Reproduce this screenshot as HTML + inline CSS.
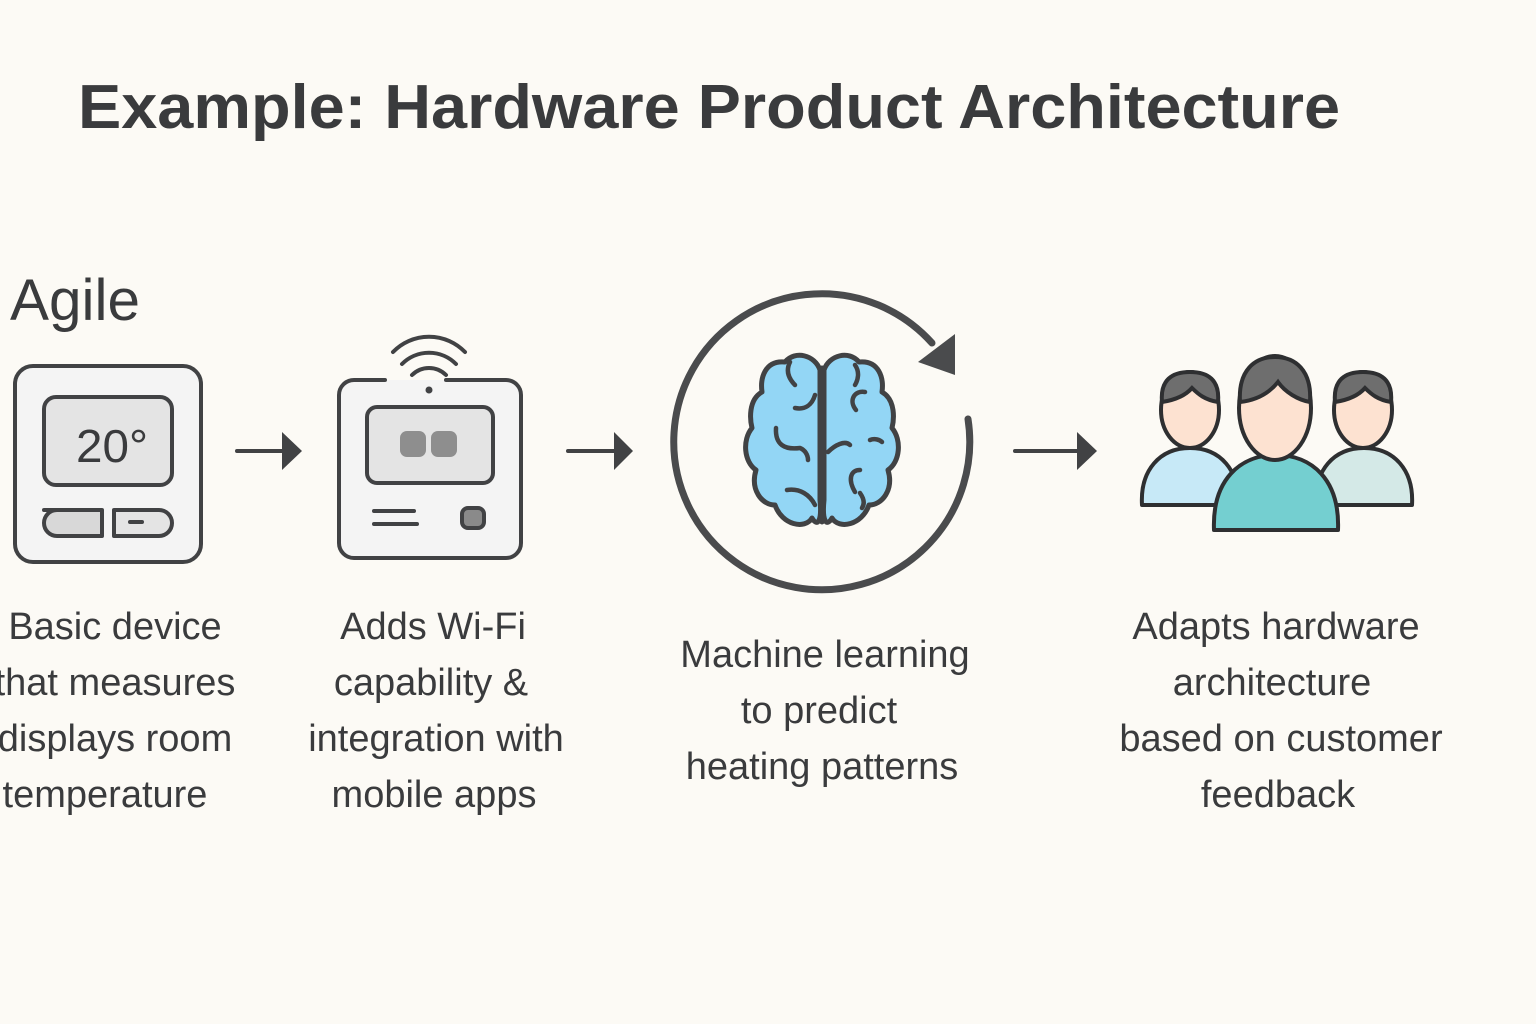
<!DOCTYPE html>
<html><head><meta charset="utf-8"><style>
html,body{margin:0;padding:0;background:#fcfaf5;}
svg{display:block}
text{font-family:"Liberation Sans",sans-serif;fill:#3a3b3d}
</style></head><body>
<svg width="1536" height="1024" viewBox="0 0 1536 1024">
<rect width="1536" height="1024" fill="#fcfaf5"/>
<text x="78" y="128" font-size="62" font-weight="bold" fill="#3a3b3d" textLength="1262" lengthAdjust="spacingAndGlyphs">Example: Hardware Product Architecture</text>
<text x="10" y="320" font-size="58" textLength="130" lengthAdjust="spacingAndGlyphs">Agile</text>

<g stroke="#414244" stroke-width="4" stroke-linecap="round" stroke-linejoin="round">
<rect x="15" y="366" width="186" height="196" rx="18" fill="#f4f4f4"/>
<rect x="44" y="397" width="128" height="88" rx="12" fill="#e4e4e4"/>
<path d="M44 510 h58 v26 h-45 a13 13 0 0 1 0 -26z" fill="#d8d8d8"/>
<path d="M114 510 h45 a13 13 0 0 1 0 26 h-45z" fill="#e4e4e4"/>
<line x1="130" y1="522" x2="142" y2="522"/>
<line x1="237" y1="451" x2="285" y2="451"/>
<line x1="568" y1="451" x2="617" y2="451"/>
<line x1="1015" y1="451" x2="1080" y2="451"/>
</g>
<text x="76" y="462" font-size="46" textLength="72" lengthAdjust="spacingAndGlyphs">20°</text>
<g fill="#414244">
<polygon points="282,432 302,451 282,470"/>
<polygon points="614,432 633,451 614,470"/>
<polygon points="1077,432 1097,451 1077,470"/>
</g>

<g stroke="#414244" stroke-width="4" stroke-linecap="round" stroke-linejoin="round">
<path d="M385 380 h-31 a15 15 0 0 0 -15 15 v148 a15 15 0 0 0 15 15 h152 a15 15 0 0 0 15 -15 v-148 a15 15 0 0 0 -15 -15 h-60" fill="#f4f4f4"/>
<rect x="367" y="407" width="126" height="76" rx="10" fill="#e4e4e4"/>
<line x1="374" y1="511" x2="414" y2="511"/>
<line x1="374" y1="524" x2="417" y2="524"/>
<rect x="462" y="508" width="22" height="20" rx="6" fill="#8a8a8a"/>
<path d="M393 352 a50 50 0 0 1 72 0" fill="none"/>
<path d="M402 364 a38 38 0 0 1 54 0" fill="none"/>
<path d="M412 375 a24 24 0 0 1 34 0" fill="none"/>
</g>
<circle cx="429" cy="390" r="3.5" fill="#414244"/>
<rect x="400" y="431" width="26" height="26" rx="7" fill="#8e8e8e"/>
<rect x="431" y="431" width="26" height="26" rx="7" fill="#8e8e8e"/>

<path d="M968 419 A148 148 0 1 1 932 343" fill="none" stroke="#4a4b4d" stroke-width="7" stroke-linecap="round"/>
<polygon points="955,334 955,375 918,362" fill="#4a4b4d"/>

<g stroke="#414244" stroke-width="5" stroke-linecap="round" stroke-linejoin="round">
<path d="M820 370 C815 355 795 350 785 362 C765 360 760 378 762 392 C748 400 750 420 752 428 C742 440 744 462 756 470 C750 490 762 505 775 505 C782 525 805 530 812 518 C818 528 822 520 820 500 Z" fill="#93d6f5"/>
<path d="M824 370 C829 355 849 350 859 362 C879 360 884 378 882 392 C896 400 894 420 892 428 C902 440 900 462 888 470 C894 490 882 505 869 505 C862 525 839 530 832 518 C826 528 822 520 824 500 Z" fill="#93d6f5"/>
<line x1="822" y1="368" x2="822" y2="522" />
<g fill="none" stroke-width="4.5">
<path d="M790 362 C785 372 790 380 795 385"/>
<path d="M795 408 C805 410 812 405 815 395"/>
<path d="M776 428 C775 445 785 450 800 448 C805 450 808 455 808 460"/>
<path d="M787 490 C800 488 810 495 815 505"/>
<path d="M855 365 C860 372 858 380 855 385"/>
<path d="M856 410 C848 400 855 390 865 392"/>
<path d="M828 452 C835 445 845 440 850 445"/>
<path d="M870 440 C875 438 880 440 882 442"/>
<path d="M855 492 C848 480 850 470 860 470"/>
<path d="M860 493 C865 500 864 505 862 508"/>
</g>
</g>

<g stroke="#2e2f31" stroke-width="4" stroke-linejoin="round">
<path d="M1142 505 C1140 470 1160 448 1190 448 C1220 448 1240 470 1238 505 Z" fill="#c7e9f7"/>
<path d="M1316 505 C1314 470 1334 448 1364 448 C1394 448 1414 470 1412 505 Z" fill="#d4e9e7"/>
<ellipse cx="1190" cy="410" rx="29" ry="38" fill="#fde2d1"/>
<ellipse cx="1363" cy="410" rx="29" ry="38" fill="#fde2d1"/>
<path d="M1214 530 C1212 480 1240 455 1276 455 C1312 455 1340 480 1338 530 Z" fill="#74cfd0"/>
<ellipse cx="1275" cy="408" rx="36" ry="52" fill="#fde2d1"/>
</g>
<g fill="#6e6e6e" stroke="#2e2f31" stroke-width="4">
<path d="M1162 402 C1160 380 1172 372 1190 372 C1208 372 1220 380 1218 402 C1205 400 1198 394 1192 388 C1185 396 1175 400 1162 402 Z"/>
<path d="M1335 402 C1333 380 1345 372 1363 372 C1381 372 1393 380 1391 402 C1378 400 1371 394 1365 388 C1358 396 1348 400 1335 402 Z"/>
<path d="M1240 402 C1238 370 1255 357 1275 357 C1295 357 1312 370 1310 402 C1298 400 1285 392 1278 382 C1270 392 1258 400 1240 402 Z"/>
</g>

<g font-size="38" text-anchor="middle">
<text x="115" y="639">Basic device</text>
<text x="115" y="695">that measures</text>
<text x="115" y="751">displays room</text>
<text x="105" y="807">temperature</text>
<text x="433" y="639">Adds Wi-Fi</text>
<text x="431" y="695">capability &amp;</text>
<text x="436" y="751">integration with</text>
<text x="434" y="807">mobile apps</text>
<text x="825" y="667">Machine learning</text>
<text x="819" y="723">to predict</text>
<text x="822" y="779">heating patterns</text>
<text x="1276" y="639">Adapts hardware</text>
<text x="1272" y="695">architecture</text>
<text x="1281" y="751">based on customer</text>
<text x="1278" y="807">feedback</text>
</g>
</svg>
</body></html>
